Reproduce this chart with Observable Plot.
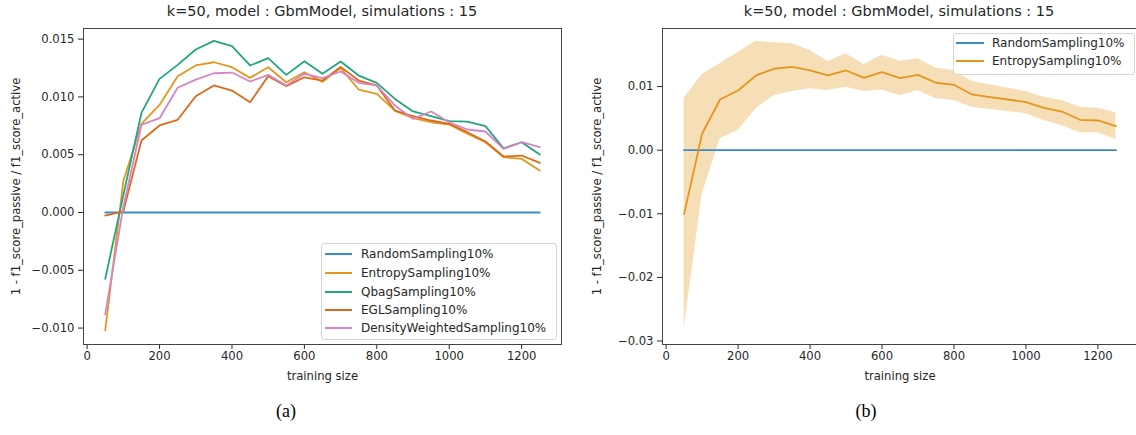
<!DOCTYPE html>
<html>
<head>
<meta charset="utf-8">
<script src="https://cdn.jsdelivr.net/npm/d3@7"></script>
<script src="https://cdn.jsdelivr.net/npm/@observablehq/plot@0.6"></script>
<style>
  html, body { margin: 0; padding: 0; background: #fff; }
  body { width: 1136px; height: 435px; position: relative; overflow: hidden; font-family: "DejaVu Sans", sans-serif; color: #262626; }
  .fig { position: absolute; top: 0; }
  .fig svg { max-width: none !important; }
  .title { position: absolute; top: 3px; font-size: 14.5px; white-space: nowrap; transform: translateX(-50%); }
  .caption { position: absolute; top: 401px; font-family: "Liberation Serif", serif; font-size: 18px; color: #000; transform: translateX(-50%); }
  .legend { position: absolute; border: 1px solid #d6d6d6; border-radius: 3px; background: rgba(255,255,255,0.85); }
  .legend .row { position: absolute; left: 0; height: 0; }
  .legend .sw { position: absolute; height: 2px; margin-top: -1px; }
  .legend .lab { position: absolute; font-size: 12px; line-height: 14px; margin-top: -7px; white-space: nowrap; }
</style>
</head>
<body>
<script>
// ---------- data ----------
const trainingSize = [50, 100, 150, 200, 250, 300, 350, 400, 450, 500, 550, 600, 650,
                      700, 750, 800, 850, 900, 950, 1000, 1050, 1100, 1150, 1200, 1250];

const seriesNames = ["RandomSampling10%", "EntropySampling10%", "QbagSampling10%",
                     "EGLSampling10%", "DensityWeightedSampling10%"];
const seriesColors = ["#3a8cc6", "#e3971f", "#22a67c", "#dd6a1a", "#d585c6"];

const randomSampling = [0, 0, 0, 0, 0, 0, 0, 0, 0, 0, 0, 0, 0, 0, 0, 0, 0, 0, 0, 0, 0, 0, 0, 0, 0];
const entropySampling = [-0.0102, 0.0027, 0.00767, 0.00931, 0.01179, 0.01272, 0.0130, 0.01257, 0.01165,
                         0.01257, 0.01127, 0.01214, 0.0113, 0.01249, 0.01064, 0.01027, 0.00882, 0.00816,
                         0.00781, 0.00761, 0.00681, 0.00608, 0.00479, 0.00464, 0.00363];
const qbagSampling = [-0.00574, 0.0015, 0.00862, 0.01156, 0.01277, 0.0141, 0.01485, 0.01439, 0.01272,
                      0.01335, 0.01191, 0.01309, 0.0120, 0.01306, 0.01185, 0.01122, 0.00983, 0.00874,
                      0.00833, 0.0079, 0.00787, 0.00747, 0.00556, 0.00608, 0.00502];
const eglSampling = [-0.00026, 0.0001, 0.00623, 0.00753, 0.00802, 0.01006, 0.01099, 0.01055, 0.00954,
                     0.01179, 0.01093, 0.0117, 0.01142, 0.0126, 0.01142, 0.01099, 0.00882, 0.00833,
                     0.00796, 0.00767, 0.00695, 0.00614, 0.00484, 0.00493, 0.0043];
const densityWeightedSampling = [-0.00882, 0.0005, 0.00758, 0.00816, 0.01079, 0.0115, 0.01205, 0.01211, 0.01133,
                                 0.01191, 0.01099, 0.012, 0.01162, 0.0122, 0.01122, 0.01099, 0.00926, 0.0081,
                                 0.00874, 0.00781, 0.00718, 0.00701, 0.00551, 0.00608, 0.00565];

// panel (b): mean and band of EntropySampling10%
const entropyMeanB = [-0.01005, 0.00258, 0.00797, 0.00939, 0.01175, 0.0128, 0.0131, 0.01253, 0.01175,
                      0.01253, 0.01138, 0.01226, 0.01132, 0.01185, 0.0106, 0.01028, 0.00876, 0.00834,
                      0.00797, 0.00755, 0.00666, 0.00608, 0.00478, 0.00467, 0.00377];
const entropyUpperB = [0.00818, 0.01186, 0.01358, 0.01541, 0.01714, 0.01688, 0.01672, 0.01567, 0.01394,
                       0.01515, 0.01347, 0.01491, 0.0140, 0.01437, 0.01289, 0.01253, 0.0108, 0.01028,
                       0.00975, 0.00923, 0.00833, 0.00781, 0.00676, 0.0066, 0.00588];
const entropyLowerB = [-0.02808, -0.00695, 0.00179, 0.0031, 0.00651, 0.0086, 0.00922, 0.00965, 0.00939,
                       0.00991, 0.00922, 0.00946, 0.0086, 0.00939, 0.00808, 0.00781, 0.00676, 0.0064,
                       0.00608, 0.00572, 0.00467, 0.00388, 0.00273, 0.00273, 0.00168];

const xTicks = [0, 200, 400, 600, 800, 1000, 1200];
const yTicksA = [-0.010, -0.005, 0.000, 0.005, 0.010, 0.015];
const yTicksB = [-0.03, -0.02, -0.01, 0.00, 0.01];

const titleText = "k=50, model : GbmModel, simulations : 15";
const xLabel = "training size";
const yLabel = "1 - f1_score_passive / f1_score_active";

// ---------- helpers ----------
const style = {fontFamily: "DejaVu Sans", fontSize: "11.6px", color: "#262626", background: "#fff"};
function seriesLine(values, color) {
  return Plot.line(trainingSize, {x: d => d, y: (d, i) => values[i], stroke: color, strokeWidth: 1.8});
}
function axes(yTicks, fmt, yLabelOffset) {
  return [
    Plot.axisX({ticks: xTicks, tickSize: 5, tickPadding: 2, tickFormat: d3.format("d"),
                label: xLabel, labelArrow: "none", labelAnchor: "center", labelOffset: 35}),
    Plot.axisY({ticks: yTicks, tickSize: 5, tickPadding: 4, tickFormat: d3.format(fmt),
                label: yLabel, labelArrow: "none", labelAnchor: "center", labelOffset: yLabelOffset}),
    Plot.frame({stroke: "#444", strokeWidth: 1})
  ];
}
function addDiv(cls, left, top, html) {
  const d = document.createElement("div");
  d.className = cls;
  d.style.left = left + "px";
  if (top != null) d.style.top = top + "px";
  d.textContent = html;
  document.body.appendChild(d);
  return d;
}
function addLegend(left, top, width, height, names, colors, rowYs, swLeft, swWidth, textLeft) {
  const box = document.createElement("div");
  box.className = "legend";
  Object.assign(box.style, {left: left + "px", top: top + "px", width: width + "px", height: height + "px"});
  names.forEach((n, i) => {
    const row = document.createElement("div");
    row.className = "row";
    row.style.top = rowYs[i] + "px";
    const sw = document.createElement("div");
    sw.className = "sw";
    Object.assign(sw.style, {left: swLeft + "px", width: swWidth + "px", background: colors[i]});
    const lab = document.createElement("div");
    lab.className = "lab";
    lab.style.left = textLeft + "px";
    lab.textContent = n;
    row.appendChild(sw); row.appendChild(lab);
    box.appendChild(row);
  });
  document.body.appendChild(box);
}

// ---------- panel (a) ----------
const allA = [randomSampling, entropySampling, qbagSampling, eglSampling, densityWeightedSampling];
const plotA = Plot.plot({
  width: 568, height: 390,
  marginLeft: 83, marginRight: 7, marginTop: 28, marginBottom: 46,
  style,
  x: {domain: [-10, 1310]},
  y: {domain: [-0.01142, 0.01592]},
  marks: [
    ...allA.map((v, i) => seriesLine(v, seriesColors[i])),
    ...axes(yTicksA, ".3f", 72)
  ]
});
const figA = document.createElement("div");
figA.className = "fig"; figA.style.left = "0px"; figA.style.width = "568px";
figA.appendChild(plotA);
document.body.appendChild(figA);

// ---------- panel (b) ----------
const plotB = Plot.plot({
  width: 570, height: 390,
  marginLeft: 87, marginRight: 8, marginTop: 28, marginBottom: 46,
  style,
  x: {domain: [-10, 1310]},
  y: {domain: [-0.03055, 0.01913]},
  marks: [
    Plot.areaY(trainingSize, {x: d => d, y1: (d, i) => entropyLowerB[i], y2: (d, i) => entropyUpperB[i],
                              fill: seriesColors[1], fillOpacity: 0.32}),
    seriesLine(randomSampling, seriesColors[0]),
    seriesLine(entropyMeanB, seriesColors[1]),
    ...axes(yTicksB, ".2f", 70)
  ]
});
const figB = document.createElement("div");
figB.className = "fig"; figB.style.left = "575px"; figB.style.width = "570px";
figB.appendChild(plotB);
document.body.appendChild(figB);

// ---------- titles, legends, captions ----------
addDiv("title", 322, null, titleText);
addDiv("title", 899, null, titleText);
addLegend(321, 243, 234, 95, seriesNames, seriesColors, [10, 29, 47.5, 66, 84], 3, 27, 39);
addLegend(953, 33, 180, 40, seriesNames.slice(0, 2), seriesColors.slice(0, 2), [9, 27], 2, 28, 38);
addDiv("caption", 286, null, "(a)");
addDiv("caption", 866, null, "(b)");
</script>
</body>
</html>
